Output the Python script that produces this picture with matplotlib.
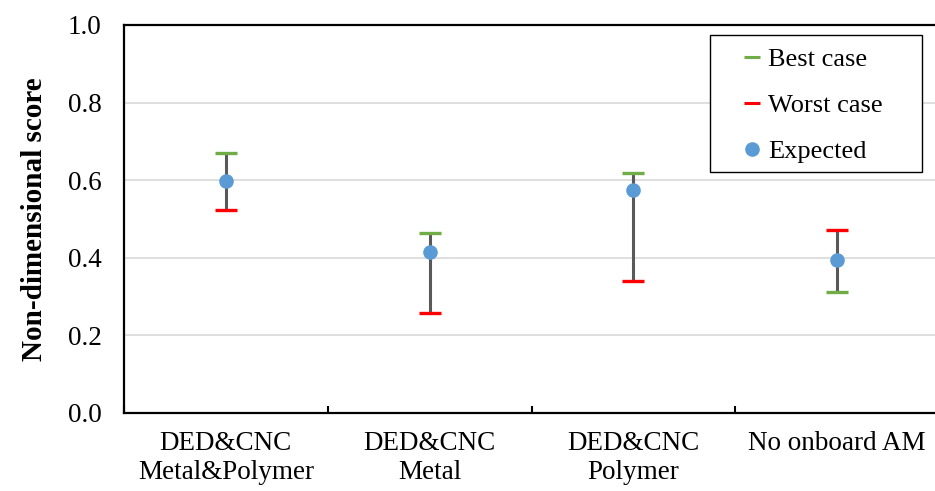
import numpy as np
import matplotlib
matplotlib.use("Agg")
import matplotlib.pyplot as plt
from matplotlib.lines import Line2D
from matplotlib.patches import Rectangle

categories = ["DED&CNC\nMetal&Polymer", "DED&CNC\nMetal", "DED&CNC\nPolymer", "No onboard AM"]
best_case = [0.670, 0.464, 0.619, 0.312]
worst_case = [0.523, 0.258, 0.340, 0.472]
expected = [0.598, 0.415, 0.575, 0.395]

GREEN = "#70AD47"
RED = "#FF0000"
BLUE = "#5B9BD5"
GRAY = "#595959"

plt.rcParams["font.family"] = ["Liberation Serif", "DejaVu Serif"]

W, H = 935, 491
fig = plt.figure(figsize=(W / 100, H / 100), dpi=100)
ax = fig.add_axes([124 / W, 1 - 413 / H, (939 - 124) / W, (413 - 25) / H])

x = np.arange(len(categories))
ax.vlines(x, worst_case, best_case, color=GRAY, lw=2.2, zorder=2)
ax.plot(x, best_case, ls="none", marker="_", ms=16, mew=2.4, color=GREEN, zorder=3)
ax.plot(x, worst_case, ls="none", marker="_", ms=16, mew=2.4, color=RED, zorder=3)
ax.plot(x, expected, ls="none", marker="o", ms=9.5, color=BLUE, zorder=4)

ax.set_xlim(-0.5, len(categories) - 0.5)
ax.set_ylim(0, 1.0)
ax.set_yticks(np.arange(0, 1.01, 0.2))
ax.set_yticklabels([f"{v:.1f}" for v in np.arange(0, 1.01, 0.2)], fontsize=19.5)
ax.tick_params(axis="y", length=0, pad=16)
ax.set_xticks(x)
ax.set_xticklabels(categories, fontsize=19.5, linespacing=1.2)
ax.tick_params(axis="x", which="major", length=0, pad=13)
ax.set_xticks(np.arange(-0.5, len(categories) + 0.5, 1), minor=True)
ax.tick_params(axis="x", which="minor", direction="in", length=5, width=1.5)

for v in [0.2, 0.4, 0.6, 0.8]:
    ax.axhline(v, color="#D9D9D9", lw=1.2, zorder=0)

for side in ["left", "top", "bottom"]:
    ax.spines[side].set_linewidth(1.6)
ax.spines["right"].set_visible(False)

ax.set_ylabel("Non-dimensional score", fontsize=21, fontweight="bold", labelpad=14)

# legend box drawn separately so its size matches the original
fig.add_artist(Rectangle((710 / W, 1 - 172 / H), 212 / W, 137 / H, transform=fig.transFigure,
                         facecolor="white", edgecolor="black", lw=1.0, zorder=5))
handles = [
    Line2D([], [], ls="none", marker="_", ms=11, mew=2.2, color=GREEN),
    Line2D([], [], ls="none", marker="_", ms=11, mew=2.2, color=RED),
    Line2D([], [], ls="none", marker="o", ms=9.5, color=BLUE),
]
leg = fig.legend(handles, ["Best case", "Worst case", "Expected"], fontsize=19,
                 loc="upper left", bbox_to_anchor=(739 / W, 1 - 48 / H),
                 frameon=False, handlelength=1.0, handletextpad=0.1,
                 labelspacing=0.85, borderpad=0, borderaxespad=0)
leg.set_zorder(6)

fig.savefig("out.png", dpi=100)
